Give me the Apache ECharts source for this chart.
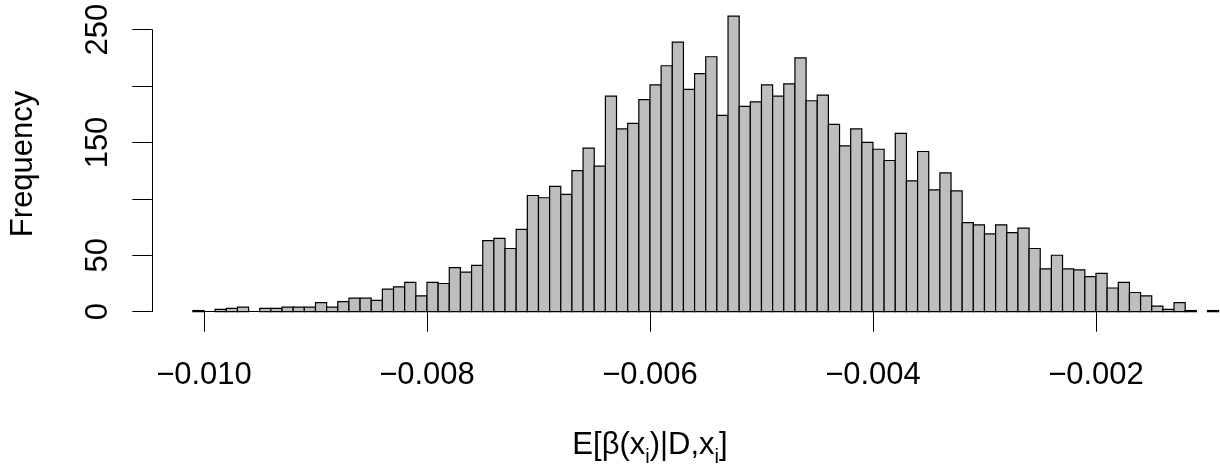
<!DOCTYPE html>
<html>
<head>
<meta charset="utf-8">
<script src="https://cdn.jsdelivr.net/npm/echarts@6/dist/echarts.min.js"></script>
<style>
* { margin: 0; padding: 0; }
body { background: #fff; }
</style>
</head>
<body>
<div id="main" style="width: 1220px;height: 476px;background:#fff"></div>
<script>
// histogram breaks: first break and bin width
var firstBreak = -0.0101
var binWidth = 0.0001

// counts per bin, left to right
var counts = [
  1, 0, 2, 3, 4, 0, 3, 3, 4, 4, 4, 8, 4, 9, 12, 12, 10, 20, 22,
  26, 14, 26, 25, 39, 35, 41, 63, 65, 56, 73, 103, 101, 111, 104, 125, 145, 129,
  191, 162, 167, 188, 201, 218, 239, 197, 211, 226, 174, 262, 182, 186, 201, 191,
  202, 225, 187, 192, 166, 147, 162, 150, 144, 134, 158, 116, 142, 108, 123, 107,
  79, 77, 69, 77, 70, 74, 56, 38, 50, 38, 37, 31, 34, 21, 26, 17, 14, 5, 2, 8,
  1, 0, 1
]

var xTicks = [-0.010, -0.008, -0.006, -0.004, -0.002]
var yTicks = [0, 50, 100, 150, 200, 250]
var yShown = [0, 50, 150, 250]

var font = 'Liberation Sans'

var bins = counts.map(function (c, i) {
  var lo = +(firstBreak + i * binWidth).toFixed(5)
  var hi = +(firstBreak + (i + 1) * binWidth).toFixed(5)
  return [lo, hi, c]
})

var chart = echarts.init(document.getElementById('main'))
chart.setOption({
  animation: false,
  grid: [
    // plot region (bars), cut at the right edge like the original
    { left: 151.8, right: 0, top: 4.3, bottom: 152.5, outerBoundsMode: 'none' },
    // axis span only, R style detached axes
    { left: 204, right: 124, top: 29.7, bottom: 164.3, outerBoundsMode: 'none' }
  ],
  xAxis: [
    {
      gridIndex: 0, type: 'value', min: -0.010468, max: -0.0008877,
      axisLine: { show: false }, axisTick: { show: false },
      axisLabel: { show: false }, splitLine: { show: false }
    },
    {
      gridIndex: 1, type: 'value',
      min: xTicks[0], max: xTicks[xTicks.length - 1], interval: 0.002,
      offset: 11.5,
      axisLine: { lineStyle: { color: '#000', width: 1 } },
      axisTick: { inside: false, length: 20, lineStyle: { color: '#000', width: 1 } },
      splitLine: { show: false },
      axisLabel: {
        margin: 37,
        fontFamily: font, fontSize: 31, color: '#000',
        formatter: function (v) { return v.toFixed(3).replace('-', '\u2212') }
      },
      name: 'E[\u03b2(x{s|i})|D,x{s|i}]',
      nameLocation: 'middle',
      nameGap: 100,
      nameTextStyle: {
        fontFamily: font, fontSize: 31, color: '#000', lineHeight: 44,
        rich: {
          s: { fontFamily: font, fontSize: 20, color: '#000', lineHeight: 20, verticalAlign: 'bottom' }
        }
      }
    }
  ],
  yAxis: [
    {
      gridIndex: 0, type: 'value', min: -10.48, max: 272.48,
      axisLine: { show: false }, axisTick: { show: false },
      axisLabel: { show: false }, splitLine: { show: false },
      name: 'Frequency',
      nameLocation: 'middle',
      nameGap: 113,
      nameTextStyle: { fontFamily: font, fontSize: 31, color: '#000' }
    },
    {
      gridIndex: 1, type: 'value',
      min: yTicks[0], max: yTicks[yTicks.length - 1], interval: 50,
      offset: 52.2,
      axisLine: { show: true, lineStyle: { color: '#000', width: 1 } },
      axisTick: { show: true, inside: false, length: 19.5, lineStyle: { color: '#000', width: 1 } },
      splitLine: { show: false },
      axisLabel: {
        rotate: 90,
        margin: 38,
        fontFamily: font, fontSize: 31, color: '#000',
        formatter: function (v) { return yShown.indexOf(v) >= 0 ? String(v) : '' }
      }
    }
  ],
  series: [
    {
      type: 'custom',
      xAxisIndex: 0,
      yAxisIndex: 0,
      data: bins,
      renderItem: function (params, api) {
        if (api.value(2) <= 0) return
        var p0 = api.coord([api.value(0), api.value(2)])
        var p1 = api.coord([api.value(1), 0])
        return {
          type: 'rect',
          shape: { x: p0[0], y: p0[1], width: p1[0] - p0[0], height: p1[1] - p0[1] },
          style: { fill: '#bebebe', stroke: '#000', lineWidth: 1.2 }
        }
      }
    }
  ]
})
</script>
</body>
</html>
